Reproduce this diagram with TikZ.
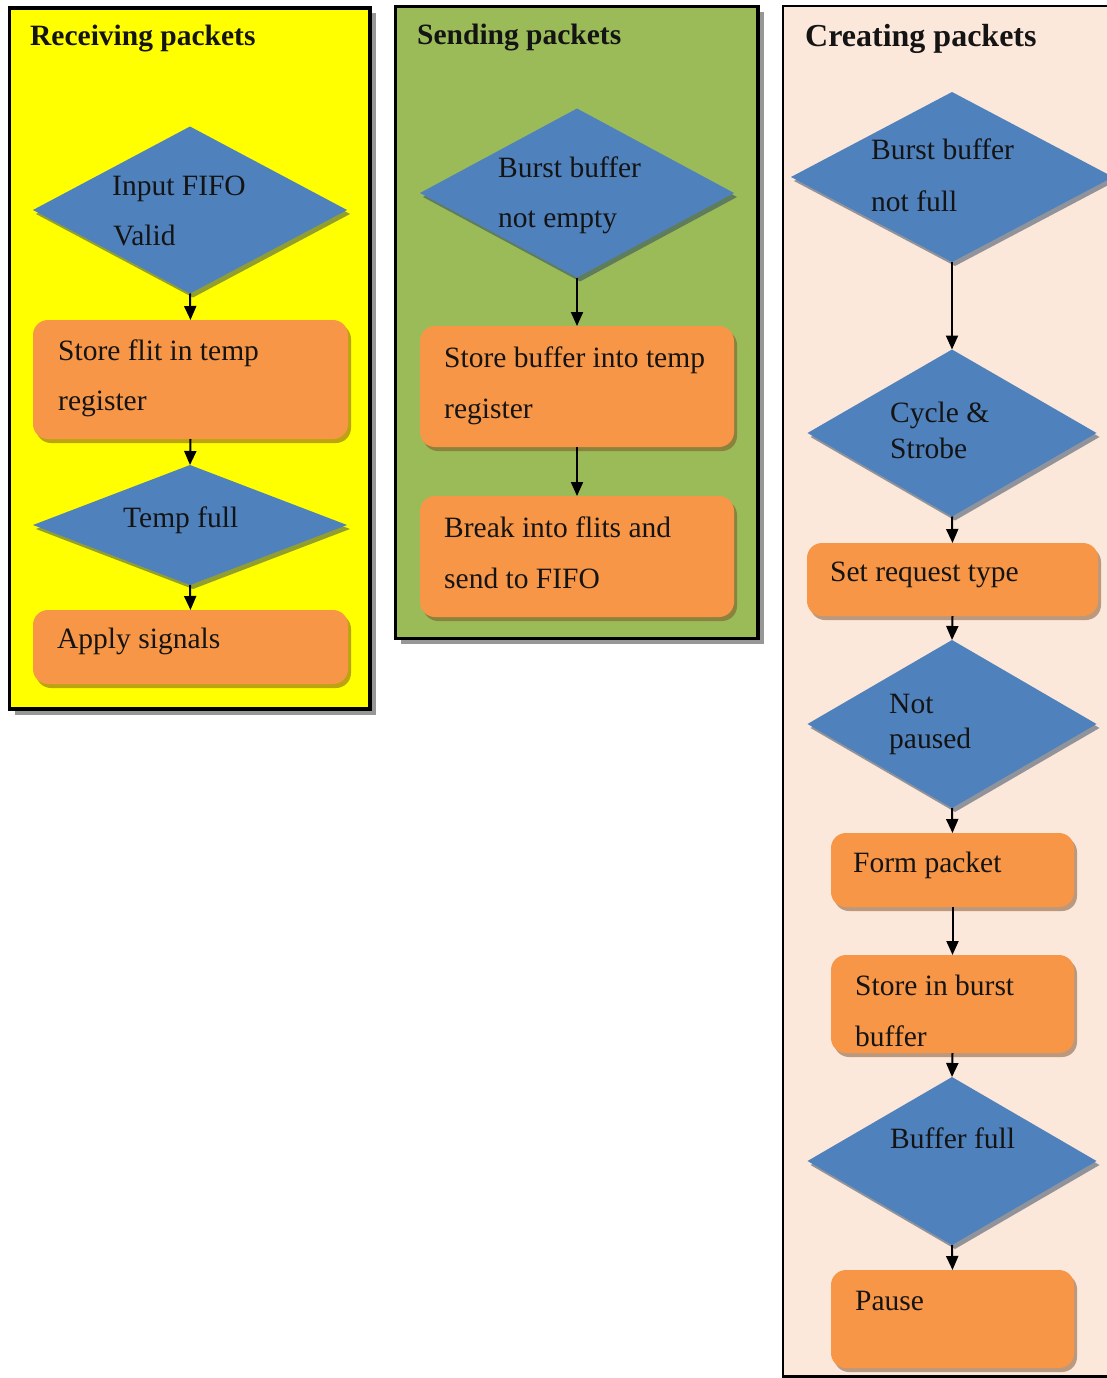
\documentclass[tikz,border=0pt]{standalone}
\usepackage{fontspec}
\setmainfont{Liberation Serif}
\usetikzlibrary{shapes.geometric,arrows.meta,shadows}

\definecolor{panelyellow}{HTML}{FFFF00}
\definecolor{panelgreen}{HTML}{9BBB59}
\definecolor{panelpeach}{HTML}{FCE8DA}
\definecolor{decblue}{HTML}{4F81BD}
\definecolor{stepor}{HTML}{F79646}
\definecolor{ink}{HTML}{141414}

\begin{document}
\begin{tikzpicture}[x=1pt,y=-1pt,
  panel/.style={rectangle, draw=black, inner sep=0, outer sep=0},
  panelshadow/.style={drop shadow={shadow xshift=5.5pt, shadow yshift=-5.5pt, fill=black!45, opacity=.9}},
  decision/.style={diamond, fill=decblue, inner sep=0, outer sep=0,
    drop shadow={shadow xshift=3pt, shadow yshift=-4pt, fill=decblue!50!black, opacity=.5}},
  stepbox/.style={rectangle, rounded corners=15pt, fill=stepor, inner sep=0, outer sep=0,
    drop shadow={shadow xshift=3pt, shadow yshift=-4pt, fill=stepor!50!black, opacity=.5}},
  title/.style={anchor=base west, inner sep=0, font=\fontsize{29.5}{35}\selectfont\bfseries, text=ink},
  lbl/.style={anchor=base west, inner sep=0, font=\fontsize{29.5}{35}\selectfont, text=ink},
  flow/.style={-{Triangle[length=14pt,width=12pt]}, line width=2pt, black},
]
\useasboundingbox (0,0) rectangle (1107,1378);
\fill[white] (0,0) rectangle (1107,1378);
\clip (0,0) rectangle (1107,1378);

% ---- the three lanes ----
\node[panel, panelshadow, line width=3.5pt, fill=panelyellow,
      minimum width=360.5pt, minimum height=701pt] (pr) at (189.75,358.5) {};
\node[panel, panelshadow, line width=3.5pt, fill=panelgreen,
      minimum width=362.5pt, minimum height=632pt] (ps) at (576.75,322.5) {};
\node[panel, line width=2.5pt, fill=panelpeach,
      minimum width=337pt, minimum height=1370.5pt] (pc) at (951.5,691.25) {};

\node[title] (tr) at (30,46) {Receiving packets};
\node[title] (ts) at (417,45) {Sending packets};
\node[title, font=\fontsize{32}{38}\selectfont\bfseries] (tc) at (805,47) {Creating packets};

% ---- receiving packets ----
\node[decision, minimum width=314pt, minimum height=167pt] (r1) at (190,210) {};
\node[stepbox, minimum width=315pt, minimum height=119pt] (r2) at (190.5,379.5) {};
\node[decision, minimum width=314pt, minimum height=120pt] (r3) at (190,525) {};
\node[stepbox, minimum width=315pt, minimum height=74pt] (r4) at (190.5,647) {};

\draw[flow] (r1.south) -- (r2.north);
\draw[flow] (r2.south) -- (r3.north);
\draw[flow] (r3.south) -- (r4.north);

\node[lbl] (r1a) at (112,195) {Input FIFO};
\node[lbl] (r1b) at (113,245) {Valid};
\node[lbl] (r2a) at (58,360) {Store flit in temp};
\node[lbl] (r2b) at (58,410) {register};
\node[lbl] (r3a) at (123,527) {Temp full};
\node[lbl] (r4a) at (57,648) {Apply signals};

% ---- sending packets ----
\node[decision, minimum width=314pt, minimum height=169pt] (s1) at (577,193) {};
\node[stepbox, minimum width=314pt, minimum height=121pt] (s2) at (577,386.5) {};
\node[stepbox, minimum width=314pt, minimum height=121pt] (s3) at (577,556.5) {};

\draw[flow] (s1.south) -- (s2.north);
\draw[flow] (s2.south) -- (s3.north);

\node[lbl] (s1a) at (498,177) {Burst buffer};
\node[lbl] (s1b) at (498,227) {not empty};
\node[lbl] (s2a) at (444,367) {Store buffer into temp};
\node[lbl] (s2b) at (444,418) {register};
\node[lbl] (s3a) at (444,537) {Break into flits and};
\node[lbl] (s3b) at (444,588) {send to FIFO};

% ---- creating packets ----
\node[decision, minimum width=322pt, minimum height=170pt] (c1) at (952,177) {};
\node[decision, minimum width=289pt, minimum height=167pt] (c2) at (952,433) {};
\node[stepbox, minimum width=291pt, minimum height=73pt] (c3) at (952.5,579.5) {};
\node[decision, minimum width=289pt, minimum height=168pt] (c4) at (952,724) {};
\node[stepbox, minimum width=243pt, minimum height=74pt] (c5) at (952.5,870) {};
\node[stepbox, minimum width=243pt, minimum height=98pt] (c6) at (952.5,1004) {};
\node[decision, minimum width=289pt, minimum height=168pt] (c7) at (952,1161) {};
\node[stepbox, minimum width=243pt, minimum height=98pt] (c8) at (952.5,1319) {};

\draw[flow] (c1.south) -- (c2.north);
\draw[flow] (c2.south) -- (c3.north);
\draw[flow] (c3.south) -- (c4.north);
\draw[flow] (c4.south) -- (c5.north);
\draw[flow] (c5.south) -- (c6.north);
\draw[flow] (c6.south) -- (c7.north);
\draw[flow] (c7.south) -- (c8.north);

\node[lbl] (c1a) at (871,160) {Burst buffer};
\node[lbl] (c1b) at (871,211) {not full};
\node[lbl] (c2a) at (890,422) {Cycle \&};
\node[lbl] (c2b) at (890,458) {Strobe};
\node[lbl] (c3a) at (830,581) {Set request type};
\node[lbl] (c4a) at (889,713) {Not};
\node[lbl] (c4b) at (889,748) {paused};
\node[lbl] (c5a) at (853,872) {Form packet};
\node[lbl] (c6a) at (855,995) {Store in burst};
\node[lbl] (c6b) at (855,1046) {buffer};
\node[lbl] (c7a) at (890,1148) {Buffer full};
\node[lbl] (c8a) at (855,1310) {Pause};
\end{tikzpicture}
\end{document}
